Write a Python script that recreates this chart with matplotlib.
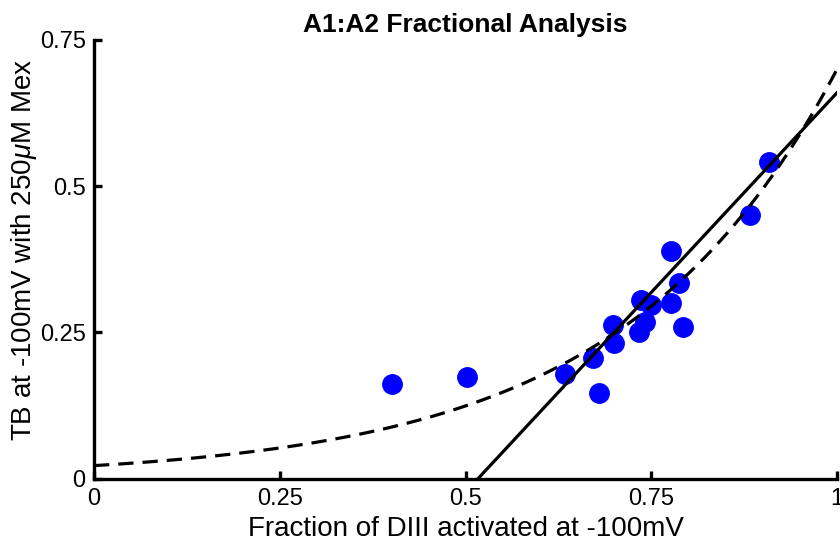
import numpy as np
import matplotlib
matplotlib.use("Agg")
import matplotlib.pyplot as plt

plt.rcParams['font.family'] = ['Liberation Sans', 'DejaVu Sans']
plt.rcParams['mathtext.fontset'] = 'custom'
plt.rcParams['mathtext.rm'] = 'Liberation Sans'
plt.rcParams['mathtext.it'] = 'Liberation Sans:italic'
plt.rcParams['lines.scale_dashes'] = False

# Data
frac_diii = [0.401, 0.502, 0.634, 0.672, 0.680, 0.698, 0.700, 0.733, 0.741,
             0.736, 0.749, 0.776, 0.776, 0.787, 0.793, 0.883, 0.908]
tb_mex = [0.162, 0.173, 0.179, 0.206, 0.147, 0.262, 0.232, 0.251, 0.267,
          0.306, 0.296, 0.300, 0.389, 0.334, 0.259, 0.451, 0.542]

# Fit lines (parameters)
lin_slope = 1.366
lin_x0 = 0.517
exp_a = 0.022
exp_b = 3.46

x_ticks = [0, 0.25, 0.5, 0.75, 1]
x_ticklabels = ['0', '0.25', '0.5', '0.75', '1']
y_ticks = [0, 0.25, 0.5, 0.75]
y_ticklabels = ['0', '0.25', '0.5', '0.75']

fig = plt.figure(figsize=(8.4, 5.46), dpi=100)
y0_px, y1_px = 478.5, 40
ax = fig.add_axes([94/840, 1 - y0_px/546, (837-94)/840, (y0_px-y1_px)/546])

ax.plot(frac_diii, tb_mex, 'o', color='#0000ff', ms=14, mec='#0000ff', zorder=2)

xf = np.linspace(0, 1, 400)
ax.plot(xf, lin_slope * (xf - lin_x0), '-', color='black', lw=2.3, zorder=3)
ax.plot(xf, exp_a * np.exp(exp_b * xf), color='black', lw=2.3,
        dashes=[11, 6.5], zorder=3)

ax.set_xlim(0, 1)
ax.set_ylim(0, 0.75)
ax.set_xticks(x_ticks)
ax.set_xticklabels(x_ticklabels)
ax.set_yticks(y_ticks)
ax.set_yticklabels(y_ticklabels)

for s in ['top', 'right']:
    ax.spines[s].set_visible(False)
for s in ['left', 'bottom']:
    ax.spines[s].set_linewidth(2.4)
ax.tick_params(direction='in', length=6, width=2.4, labelsize=17)
ax.tick_params(axis='y', pad=6)
ax.tick_params(axis='x', pad=7)

ax_h = y0_px - y1_px
ax.set_xlabel('Fraction of DIII activated at -100mV', fontsize=20)
ax.set_ylabel(r'TB at -100mV with 250$\mu$M Mex', fontsize=20)
ax.xaxis.set_label_coords(0.5, -38/ax_h)
ax.yaxis.set_label_coords(-55/743, (y0_px-250)/ax_h)
ax.set_title('A1:A2 Fractional Analysis', fontsize=19, fontweight='bold', pad=6)

fig.savefig('out.png', dpi=100)
